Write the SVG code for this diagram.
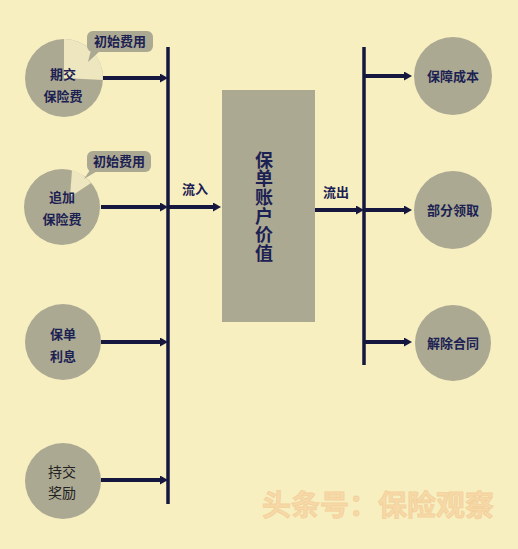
<svg xmlns="http://www.w3.org/2000/svg" width="518" height="549" viewBox="0 0 518 549">
<defs>
<marker id="ah" viewBox="0 0 8 9" refX="2" refY="4.5" markerWidth="8" markerHeight="9" markerUnits="userSpaceOnUse" orient="auto">
<path d="M0,0 L8,4.5 L0,9 z" fill="#15173F"/>
</marker>
<style>
.c{fill:#ACA993}
.w{fill:#EEE6BE}
.t{font-family:"Noto Sans CJK SC","Noto Sans",sans-serif;font-size:13px;font-weight:bold;fill:#1B2152;text-anchor:middle}
.n{font-family:"Noto Sans CJK SC","Noto Sans",sans-serif;font-size:14px;fill:#222;text-anchor:middle}
.bus{stroke:#15173F;stroke-width:3.5;fill:none}
.a{stroke:#15173F;stroke-width:4;fill:none;marker-end:url(#ah)}
</style>
</defs>
<rect width="518" height="549" fill="#F8EFC1"/>

<g id="connectors">
<line class="bus" x1="168" y1="47" x2="168" y2="504"/>
<line class="bus" x1="364" y1="47" x2="364" y2="365"/>
<line class="a" x1="102" y1="78" x2="162" y2="78"/>
<line class="a" x1="101" y1="207" x2="162" y2="207"/>
<line class="a" x1="168" y1="207" x2="215" y2="207"/>
<line class="a" x1="101" y1="342" x2="162" y2="342"/>
<line class="a" x1="101" y1="480" x2="162" y2="480"/>
<line class="a" x1="315" y1="210" x2="358" y2="210"/>
<line class="a" x1="364" y1="76" x2="406" y2="76"/>
<line class="a" x1="364" y1="210" x2="406" y2="210"/>
<line class="a" x1="364" y1="342" x2="406" y2="342"/>
<text class="t" x="195" y="194">流入</text>
<text class="t" x="336" y="197">流出</text>
</g>

<g id="n1">
<circle class="c" cx="64" cy="78" r="39"/>
<path class="w" d="M64,78 L64,39 A39,39 0 0,1 103,80 Z"/>
<text class="t" x="63" y="79">期交</text>
<text class="t" x="63" y="101">保险费</text>
</g>
<g id="b1">
<rect class="c" x="87" y="31" width="66" height="21" rx="6"/>
<path class="c" d="M91,50 L88,62 L101,50 Z"/>
<text class="t" x="120" y="46">初始费用</text>
</g>

<g id="n2">
<circle class="c" cx="62" cy="207" r="38"/>
<path class="w" d="M70,197 L72,170 A38,38 0 0,1 91,183 Z"/>
<text class="t" x="62" y="202">追加</text>
<text class="t" x="62" y="224">保险费</text>
</g>
<g id="b2">
<rect class="c" x="87" y="151" width="64" height="21" rx="6"/>
<path class="c" d="M90,170 L84,179 L99,170 Z"/>
<text class="t" x="119" y="166">初始费用</text>
</g>

<g id="n3">
<circle class="c" cx="63" cy="342" r="38"/>
<text class="t" x="63" y="339">保单</text>
<text class="t" x="63" y="361">利息</text>
</g>

<g id="n4">
<circle class="c" cx="63" cy="481" r="38"/>
<text class="n" x="62" y="477">持交</text>
<text class="n" x="62" y="498">奖励</text>
</g>

<g id="center">
<rect class="c" x="222" y="90" width="93" height="232"/>
<text x="264" y="151" writing-mode="vertical-rl" letter-spacing="0.6" font-family="'Noto Sans CJK SC','Noto Sans',sans-serif" font-size="18" font-weight="bold" fill="#1B2152">保单账户价值</text>
</g>

<g id="r1">
<circle class="c" cx="453" cy="76" r="39"/>
<text class="t" x="453" y="81">保障成本</text>
</g>
<g id="r2">
<circle class="c" cx="453" cy="210" r="39"/>
<text class="t" x="453" y="215">部分领取</text>
</g>
<g id="r3">
<circle class="c" cx="453" cy="343" r="38"/>
<text class="t" x="453" y="348">解除合同</text>
</g>

<text x="378" y="516" font-family="'Noto Sans CJK SC',sans-serif" font-size="29" font-weight="bold" fill="#F6D29E" stroke="#F1C68E" stroke-width="0.8" text-anchor="middle" opacity="0.75">头条号：保险观察</text>
</svg>
